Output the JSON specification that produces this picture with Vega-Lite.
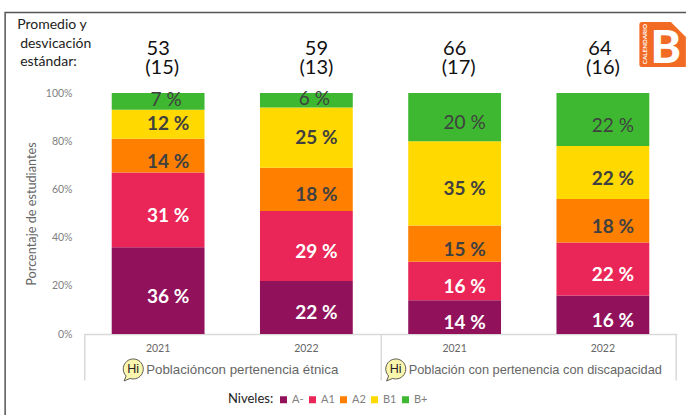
{
"$schema":"https://vega.github.io/schema/vega-lite/v6.json",
"width":593,"height":241,
"autosize":"none",
"padding":{"left":84,"top":93,"right":9,"bottom":81},
"background":"white",
"config":{"view":{"stroke":null},"font":"Lato"},
"datasets":{
"niveles":[
{"periodo":"Étnica 2021","nivel":"A-","orden":1,"pct":36,"etiqueta":"36 %"},
{"periodo":"Étnica 2021","nivel":"A1","orden":2,"pct":31,"etiqueta":"31 %"},
{"periodo":"Étnica 2021","nivel":"A2","orden":3,"pct":14,"etiqueta":"14 %"},
{"periodo":"Étnica 2021","nivel":"B1","orden":4,"pct":12,"etiqueta":"12 %"},
{"periodo":"Étnica 2021","nivel":"B+","orden":5,"pct":7,"etiqueta":"7 %"},
{"periodo":"Étnica 2022","nivel":"A-","orden":1,"pct":22,"etiqueta":"22 %"},
{"periodo":"Étnica 2022","nivel":"A1","orden":2,"pct":29,"etiqueta":"29 %"},
{"periodo":"Étnica 2022","nivel":"A2","orden":3,"pct":18,"etiqueta":"18 %"},
{"periodo":"Étnica 2022","nivel":"B1","orden":4,"pct":25,"etiqueta":"25 %"},
{"periodo":"Étnica 2022","nivel":"B+","orden":5,"pct":6,"etiqueta":"6 %"},
{"periodo":"Discapacidad 2021","nivel":"A-","orden":1,"pct":14,"etiqueta":"14 %"},
{"periodo":"Discapacidad 2021","nivel":"A1","orden":2,"pct":16,"etiqueta":"16 %"},
{"periodo":"Discapacidad 2021","nivel":"A2","orden":3,"pct":15,"etiqueta":"15 %"},
{"periodo":"Discapacidad 2021","nivel":"B1","orden":4,"pct":35,"etiqueta":"35 %"},
{"periodo":"Discapacidad 2021","nivel":"B+","orden":5,"pct":20,"etiqueta":"20 %"},
{"periodo":"Discapacidad 2022","nivel":"A-","orden":1,"pct":16,"etiqueta":"16 %"},
{"periodo":"Discapacidad 2022","nivel":"A1","orden":2,"pct":22,"etiqueta":"22 %"},
{"periodo":"Discapacidad 2022","nivel":"A2","orden":3,"pct":18,"etiqueta":"18 %"},
{"periodo":"Discapacidad 2022","nivel":"B1","orden":4,"pct":22,"etiqueta":"22 %"},
{"periodo":"Discapacidad 2022","nivel":"B+","orden":5,"pct":22,"etiqueta":"22 %"}
],
"resumen":[
{"periodo":"Étnica 2021","promedio":53,"de":"(15)"},
{"periodo":"Étnica 2022","promedio":59,"de":"(13)"},
{"periodo":"Discapacidad 2021","promedio":66,"de":"(17)"},
{"periodo":"Discapacidad 2022","promedio":64,"de":"(16)"}
]
},
"layer":[
{
"data":{"name":"niveles"},
"transform":[
{"stack":"pct","groupby":["periodo"],"sort":[{"field":"orden","order":"ascending"}],"as":["y0","y1"]},
{"calculate":"(datum.y0+datum.y1)/2","as":"medio"}
],
"layer":[
{"mark":{"type":"bar"},
"encoding":{
"x":{"field":"periodo","type":"nominal","sort":null,
"scale":{"domain":["Étnica 2021","Étnica 2022","Discapacidad 2021","Discapacidad 2022"],"paddingInner":0.374,"paddingOuter":0.187},
"axis":{"title":null,"labelExpr":"slice(datum.value,-4)","labelAngle":0,"labelFontSize":10.5,"labelColor":"#666666","labelFont":"Lato","labelPadding":9,"ticks":false,"domainColor":"#d9d9d9","domainWidth":1.5}},
"y":{"field":"y1","type":"quantitative",
"scale":{"domain":[0,100],"nice":false},
"axis":{"title":"Porcentaje de estudiantes","titleFont":"Lato","titleFontWeight":"normal","titleFontSize":12.7,"titleColor":"#666666","titlePadding":7,"values":[0,20,40,60,80,100],"labelExpr":"datum.value+'%'","labelFontSize":10.5,"labelFont":"Lato","labelColor":"#7f7f7f","labelPadding":12,"ticks":false,"domain":false,"grid":false}},
"y2":{"field":"y0"},
"color":{"field":"nivel","type":"nominal",
"scale":{"domain":["A-","A1","A2","B1","B+"],"range":["#91115b","#ea2557","#ff8000","#ffd900","#3db830"]},
"legend":{"orient":"none","legendX":144,"legendY":301,"direction":"horizontal","title":"Niveles:","titleOrient":"left","titleFont":"Lato","titleFontWeight":"normal","titleFontSize":13,"titleColor":"#222222","titlePadding":4,"symbolType":"square","symbolSize":49,"symbolStrokeWidth":0,"labelFontSize":11,"labelFont":"Lato","labelColor":"#7f7f7f","labelOffset":3,"columnPadding":3}}
}},
{"transform":[{"filter":{"field":"nivel","oneOf":["A-","A1"]}}],
"mark":{"type":"text","fontSize":19,"fontWeight":"bold","color":"white","dx":10,"dy":6},
"encoding":{"x":{"field":"periodo","type":"nominal"},"y":{"field":"medio","type":"quantitative"},"text":{"field":"etiqueta"}}},
{"transform":[{"filter":"(datum.nivel=='A2'||datum.nivel=='B1')&&!(datum.nivel=='B1'&&slice(datum.periodo,0,6)=='Étnica')"}],
"mark":{"type":"text","fontSize":19,"fontWeight":"bold","color":"#404040","dx":10,"dy":6},
"encoding":{"x":{"field":"periodo","type":"nominal"},"y":{"field":"medio","type":"quantitative"},"text":{"field":"etiqueta"}}},
{"transform":[{"filter":"datum.nivel=='B1'&&slice(datum.periodo,0,6)=='Étnica'"}],
"mark":{"type":"text","fontSize":19,"fontWeight":"bold","color":"#404040","dx":10,"dy":0},
"encoding":{"x":{"field":"periodo","type":"nominal"},"y":{"field":"medio","type":"quantitative"},"text":{"field":"etiqueta"}}},
{"transform":[{"filter":"datum.nivel=='B+'&&slice(datum.periodo,0,6)=='Étnica'"}],
"mark":{"type":"text","fontSize":19,"color":"#404040","dx":8,"dy":-1},
"encoding":{"x":{"field":"periodo","type":"nominal"},"y":{"field":"medio","type":"quantitative"},"text":{"field":"etiqueta"}}},
{"transform":[{"filter":"datum.nivel=='B+'&&slice(datum.periodo,0,6)!='Étnica'"}],
"mark":{"type":"text","fontSize":19,"color":"#404040","dx":10,"dy":6},
"encoding":{"x":{"field":"periodo","type":"nominal"},"y":{"field":"medio","type":"quantitative"},"text":{"field":"etiqueta"}}}
]
},
{"data":{"name":"resumen"},
"transform":[{"filter":{"field":"periodo","oneOf":["Étnica 2021","Discapacidad 2021"]}}],
"mark":{"type":"text","fontSize":20,"color":"#111111","dx":0},
"encoding":{"x":{"field":"periodo","type":"nominal"},"y":{"datum":118.1},"text":{"field":"promedio"}}},
{"data":{"name":"resumen"},
"transform":[{"filter":{"field":"periodo","oneOf":["Étnica 2022"]}}],
"mark":{"type":"text","fontSize":20,"color":"#111111","dx":10},
"encoding":{"x":{"field":"periodo","type":"nominal"},"y":{"datum":118.1},"text":{"field":"promedio"}}},
{"data":{"name":"resumen"},
"transform":[{"filter":{"field":"periodo","oneOf":["Discapacidad 2022"]}}],
"mark":{"type":"text","fontSize":20,"color":"#111111","dx":-3},
"encoding":{"x":{"field":"periodo","type":"nominal"},"y":{"datum":118.1},"text":{"field":"promedio"}}},
{"data":{"name":"resumen"},
"transform":[{"filter":{"field":"periodo","oneOf":["Étnica 2021","Discapacidad 2021"]}}],
"mark":{"type":"text","fontSize":20,"color":"#111111","dx":4},
"encoding":{"x":{"field":"periodo","type":"nominal"},"y":{"datum":110.4},"text":{"field":"de"}}},
{"data":{"name":"resumen"},
"transform":[{"filter":{"field":"periodo","oneOf":["Étnica 2022"]}}],
"mark":{"type":"text","fontSize":20,"color":"#111111","dx":10},
"encoding":{"x":{"field":"periodo","type":"nominal"},"y":{"datum":110.4},"text":{"field":"de"}}},
{"data":{"name":"resumen"},
"transform":[{"filter":{"field":"periodo","oneOf":["Discapacidad 2022"]}}],
"mark":{"type":"text","fontSize":20,"color":"#111111","dx":0},
"encoding":{"x":{"field":"periodo","type":"nominal"},"y":{"datum":110.4},"text":{"field":"de"}}},
{"data":{"values":[{"periodo":"Étnica 2021"},{"periodo":"Discapacidad 2021"}]},
"mark":{"type":"rule","color":"#d9d9d9","strokeWidth":1.5},
"encoding":{"x":{"field":"periodo","type":"nominal","bandPosition":-0.29},"y":{"datum":0},"y2":{"datum":-19.3}}},
{"data":{"values":[{"periodo":"Discapacidad 2022"}]},
"mark":{"type":"rule","color":"#d9d9d9","strokeWidth":1.5},
"encoding":{"x":{"field":"periodo","type":"nominal","bandPosition":1.29},"y":{"datum":0},"y2":{"datum":-19.3}}},
{"data":{"values":[{"periodo":"Étnica 2021"}]},
"mark":{"type":"point","shape":"M-153,81 L-153,-321.5 L530,-321.5","size":4,"filled":false,"fill":"transparent","stroke":"#555555","strokeWidth":1.5,"opacity":1},
"encoding":{"x":{"field":"periodo","type":"nominal"},"y":{"datum":0}}},
{"data":{"values":[{"periodo":"Étnica 2021"}]},
"mark":{"type":"point","shape":"M-32,7 A10,10 0 1 1 -28,9.5 L-34,12 Z","size":4,"filled":true,"fill":"#fbf6ae","stroke":"#333333","strokeWidth":0.8,"opacity":1},
"encoding":{"x":{"field":"periodo","type":"nominal"},"y":{"datum":-14.5}}},
{"data":{"values":[{"periodo":"Discapacidad 2021"}]},
"mark":{"type":"point","shape":"M-66,7 A10,10 0 1 1 -62,9.5 L-68,12 Z","size":4,"filled":true,"fill":"#fbf6ae","stroke":"#333333","strokeWidth":0.8,"opacity":1},
"encoding":{"x":{"field":"periodo","type":"nominal"},"y":{"datum":-14.5}}},
{"data":{"values":[{"periodo":"Étnica 2021","texto":"Hi"}]},
"mark":{"type":"text","font":"Liberation Sans","fontSize":12.5,"color":"#222222","dx":-25},
"encoding":{"x":{"field":"periodo","type":"nominal"},"y":{"datum":-14.5},"text":{"field":"texto"}}},
{"data":{"values":[{"periodo":"Discapacidad 2021","texto":"Hi"}]},
"mark":{"type":"text","font":"Liberation Sans","fontSize":12.5,"color":"#222222","dx":-59},
"encoding":{"x":{"field":"periodo","type":"nominal"},"y":{"datum":-14.5},"text":{"field":"texto"}}},
{"data":{"values":[{"periodo":"Étnica 2021","texto":"Poblacióncon pertenencia étnica"}]},
"mark":{"type":"text","font":"Liberation Sans","fontSize":13.3,"color":"#666666","align":"left","dx":-12},
"encoding":{"x":{"field":"periodo","type":"nominal"},"y":{"datum":-14.8},"text":{"field":"texto"}}},
{"data":{"values":[{"periodo":"Discapacidad 2021","texto":"Población con pertenencia con discapacidad"}]},
"mark":{"type":"text","font":"Liberation Sans","fontSize":12.8,"color":"#666666","align":"left","dx":-46},
"encoding":{"x":{"field":"periodo","type":"nominal"},"y":{"datum":-14.8},"text":{"field":"texto"}}},
{"data":{"values":[{"periodo":"Étnica 2021","texto":"Promedio y"}]},
"mark":{"type":"text","fontSize":14,"color":"#222222","align":"left","dx":-141},
"encoding":{"x":{"field":"periodo","type":"nominal"},"y":{"datum":128.2},"text":{"field":"texto"}}},
{"data":{"values":[{"periodo":"Étnica 2021","texto":"desvicación"}]},
"mark":{"type":"text","fontSize":14,"color":"#222222","align":"left","dx":-138},
"encoding":{"x":{"field":"periodo","type":"nominal"},"y":{"datum":120.3},"text":{"field":"texto"}}},
{"data":{"values":[{"periodo":"Étnica 2021","texto":"estándar:"}]},
"mark":{"type":"text","fontSize":14,"color":"#222222","align":"left","dx":-138},
"encoding":{"x":{"field":"periodo","type":"nominal"},"y":{"datum":112.9},"text":{"field":"texto"}}},
{"data":{"values":[{"periodo":"Discapacidad 2022"}]},
"mark":{"type":"point","shape":"M39,-71 L68,-71 L83,-56 L83,-26 L39,-26 Q36.5,-26 36.5,-28.5 L36.5,-68.5 Q36.5,-71 39,-71 Z","size":4,"filled":true,"fill":"#f26b25","opacity":1},
"encoding":{"x":{"field":"periodo","type":"nominal"},"y":{"datum":100}}},
{"data":{"values":[{"periodo":"Discapacidad 2022","texto":"B"}]},
"mark":{"type":"text","font":"Lato","fontWeight":900,"fontSize":46,"color":"white","dx":63},
"encoding":{"x":{"field":"periodo","type":"nominal"},"y":{"datum":118.2},"text":{"field":"texto"}}},
{"data":{"values":[{"periodo":"Discapacidad 2022","texto":"CALENDARIO"}]},
"mark":{"type":"text","fontSize":6.3,"fontWeight":"bold","color":"white","angle":270,"dy":42},
"encoding":{"x":{"field":"periodo","type":"nominal"},"y":{"datum":120.3},"text":{"field":"texto"}}}
]
}
